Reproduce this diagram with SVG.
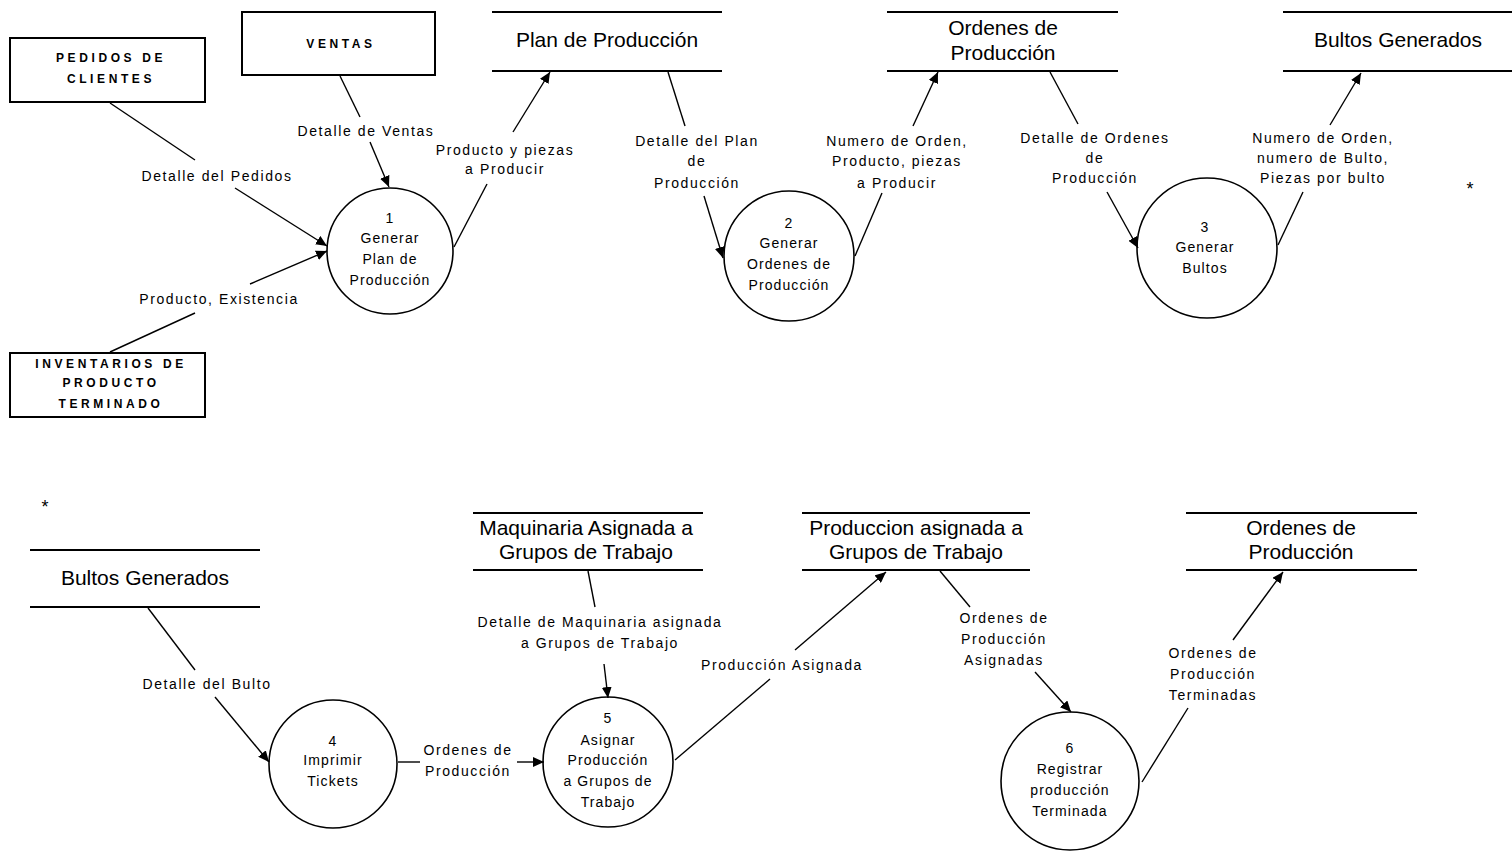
<svg xmlns="http://www.w3.org/2000/svg" width="1512" height="853" viewBox="0 0 1512 853">
<defs>
<style>
.bg{fill:#fff}
.box{fill:#fff;stroke:#000;stroke-width:2}
.store{stroke:#000;stroke-width:2}
.proc{fill:#fff;stroke:#000;stroke-width:1.6}
.flow{stroke:#000;stroke-width:1.4;fill:none}
.ent{font-family:"Liberation Sans",Arial,sans-serif;font-size:12px;font-weight:bold;letter-spacing:3.6px;text-anchor:middle;fill:#000}
.st{font-family:"Liberation Sans",Arial,sans-serif;font-size:21px;text-anchor:middle;fill:#000}
.pt{font-family:"Liberation Sans",Arial,sans-serif;font-size:14px;text-anchor:middle;fill:#000;letter-spacing:1.1px}
.lb{font-family:"Liberation Sans",Arial,sans-serif;font-size:14px;text-anchor:middle;fill:#000;letter-spacing:1.6px}
.star{font-family:"Liberation Sans",Arial,sans-serif;font-size:18px;text-anchor:middle;fill:#000}
</style>
<marker id="arr" markerUnits="userSpaceOnUse" markerWidth="12" markerHeight="10" refX="11" refY="5" orient="auto">
<path d="M0,0 L11,5 L0,10 z" fill="#000"/>
</marker>
</defs>
<rect class="bg" x="0" y="0" width="1512" height="853"/>

<!-- External entities -->
<g id="pedidos">
<rect class="box" x="10" y="38" width="195" height="64"/>
<text class="ent" x="111" y="62">PEDIDOS DE</text>
<text class="ent" x="111" y="83">CLIENTES</text>
</g>
<g id="ventas">
<rect class="box" x="242" y="12" width="193" height="63"/>
<text class="ent" x="341" y="48">VENTAS</text>
</g>
<g id="inventarios">
<rect class="box" x="10" y="353" width="195" height="64"/>
<text class="ent" x="111" y="368">INVENTARIOS DE</text>
<text class="ent" x="111" y="387">PRODUCTO</text>
<text class="ent" x="111" y="408">TERMINADO</text>
</g>

<!-- Data stores top -->
<g id="store-plan">
<line class="store" x1="492" y1="12" x2="722" y2="12"/>
<line class="store" x1="492" y1="71" x2="722" y2="71"/>
<text class="st" x="607" y="47">Plan de Producción</text>
</g>
<g id="store-ordenes1">
<line class="store" x1="887" y1="12" x2="1118" y2="12"/>
<line class="store" x1="887" y1="71" x2="1118" y2="71"/>
<text class="st" x="1003" y="35">Ordenes de</text>
<text class="st" x="1003" y="60">Producción</text>
</g>
<g id="store-bultos1">
<line class="store" x1="1283" y1="12" x2="1512" y2="12"/>
<line class="store" x1="1283" y1="71" x2="1512" y2="71"/>
<text class="st" x="1398" y="47">Bultos Generados</text>
</g>
<text class="star" x="1470" y="195">*</text>

<!-- Processes top -->
<g id="p1">
<circle class="proc" cx="390" cy="251" r="63"/>
<text class="pt" x="390" y="223">1</text>
<text class="pt" x="390" y="243">Generar</text>
<text class="pt" x="390" y="264">Plan de</text>
<text class="pt" x="390" y="285">Producción</text>
</g>
<g id="p2">
<circle class="proc" cx="789" cy="256" r="65"/>
<text class="pt" x="789" y="228">2</text>
<text class="pt" x="789" y="248">Generar</text>
<text class="pt" x="789" y="269">Ordenes de</text>
<text class="pt" x="789" y="290">Producción</text>
</g>
<g id="p3">
<circle class="proc" cx="1207" cy="248" r="70"/>
<text class="pt" x="1205" y="232">3</text>
<text class="pt" x="1205" y="252">Generar</text>
<text class="pt" x="1205" y="273">Bultos</text>
</g>

<!-- Data stores bottom -->
<text class="star" x="45" y="513">*</text>
<g id="store-bultos2">
<line class="store" x1="30" y1="550" x2="260" y2="550"/>
<line class="store" x1="30" y1="607" x2="260" y2="607"/>
<text class="st" x="145" y="585">Bultos Generados</text>
</g>
<g id="store-maquinaria">
<line class="store" x1="473" y1="513" x2="703" y2="513"/>
<line class="store" x1="473" y1="570" x2="703" y2="570"/>
<text class="st" x="586" y="535">Maquinaria Asignada a</text>
<text class="st" x="586" y="559">Grupos de Trabajo</text>
</g>
<g id="store-produccion">
<line class="store" x1="802" y1="513" x2="1030" y2="513"/>
<line class="store" x1="802" y1="570" x2="1030" y2="570"/>
<text class="st" x="916" y="535">Produccion asignada a</text>
<text class="st" x="916" y="559">Grupos de Trabajo</text>
</g>
<g id="store-ordenes2">
<line class="store" x1="1186" y1="513" x2="1417" y2="513"/>
<line class="store" x1="1186" y1="570" x2="1417" y2="570"/>
<text class="st" x="1301" y="535">Ordenes de</text>
<text class="st" x="1301" y="559">Producción</text>
</g>

<!-- Processes bottom -->
<g id="p4">
<circle class="proc" cx="333" cy="764" r="64"/>
<text class="pt" x="333" y="746">4</text>
<text class="pt" x="333" y="765">Imprimir</text>
<text class="pt" x="333" y="786">Tickets</text>
</g>
<g id="p5">
<circle class="proc" cx="608" cy="762" r="65"/>
<text class="pt" x="608" y="723">5</text>
<text class="pt" x="608" y="745">Asignar</text>
<text class="pt" x="608" y="765">Producción</text>
<text class="pt" x="608" y="786">a Grupos de</text>
<text class="pt" x="608" y="807">Trabajo</text>
</g>
<g id="p6">
<circle class="proc" cx="1070" cy="781" r="69"/>
<text class="pt" x="1070" y="753">6</text>
<text class="pt" x="1070" y="774">Registrar</text>
<text class="pt" x="1070" y="795">producción</text>
<text class="pt" x="1070" y="816">Terminada</text>
</g>

<!-- Connectors -->
<g id="connectors">
<line class="flow" x1="110" y1="103" x2="195" y2="160"/>
<line class="flow" x1="235" y1="188" x2="327" y2="246" marker-end="url(#arr)"/>
<line class="flow" x1="110" y1="352" x2="195" y2="313"/>
<line class="flow" x1="250" y1="284" x2="327" y2="251" marker-end="url(#arr)"/>
<line class="flow" x1="340" y1="76" x2="360" y2="117"/>
<line class="flow" x1="370" y1="142" x2="389" y2="187" marker-end="url(#arr)"/>
<line class="flow" x1="454" y1="247" x2="487" y2="184"/>
<line class="flow" x1="513" y1="132" x2="550" y2="72" marker-end="url(#arr)"/>
<line class="flow" x1="668" y1="72" x2="685" y2="126"/>
<line class="flow" x1="704" y1="196" x2="723" y2="258" marker-end="url(#arr)"/>
<line class="flow" x1="855" y1="256" x2="882" y2="193"/>
<line class="flow" x1="913" y1="126" x2="938" y2="72" marker-end="url(#arr)"/>
<line class="flow" x1="1050" y1="72" x2="1078" y2="124"/>
<line class="flow" x1="1107" y1="192" x2="1138" y2="248" marker-end="url(#arr)"/>
<line class="flow" x1="1278" y1="245" x2="1303" y2="192"/>
<line class="flow" x1="1330" y1="125" x2="1361" y2="73" marker-end="url(#arr)"/>

<line class="flow" x1="148" y1="608" x2="195" y2="670"/>
<line class="flow" x1="215" y1="697" x2="269" y2="762" marker-end="url(#arr)"/>
<line class="flow" x1="398" y1="762" x2="420" y2="762"/>
<line class="flow" x1="517" y1="762" x2="544" y2="762" marker-end="url(#arr)"/>
<line class="flow" x1="588" y1="571" x2="595" y2="607"/>
<line class="flow" x1="604" y1="664" x2="608" y2="698" marker-end="url(#arr)"/>
<line class="flow" x1="675" y1="760" x2="770" y2="679"/>
<line class="flow" x1="795" y1="650" x2="886" y2="572" marker-end="url(#arr)"/>
<line class="flow" x1="940" y1="571" x2="970" y2="607"/>
<line class="flow" x1="1035" y1="672" x2="1071" y2="712" marker-end="url(#arr)"/>
<line class="flow" x1="1142" y1="782" x2="1188" y2="708"/>
<line class="flow" x1="1233" y1="640" x2="1283" y2="572" marker-end="url(#arr)"/>

<text class="lb" x="217" y="181">Detalle del Pedidos</text>
<text class="lb" x="219" y="304">Producto, Existencia</text>
<text class="lb" x="366" y="136">Detalle de Ventas</text>
<text class="lb" x="505" y="155">Producto y piezas</text>
<text class="lb" x="505" y="174">a Producir</text>
<text class="lb" x="697" y="146">Detalle del Plan</text>
<text class="lb" x="697" y="166">de</text>
<text class="lb" x="697" y="188">Producción</text>
<text class="lb" x="897" y="146">Numero de Orden,</text>
<text class="lb" x="897" y="166">Producto, piezas</text>
<text class="lb" x="897" y="188">a Producir</text>
<text class="lb" x="1095" y="143">Detalle de Ordenes</text>
<text class="lb" x="1095" y="163">de</text>
<text class="lb" x="1095" y="183">Producción</text>
<text class="lb" x="1323" y="143">Numero de Orden,</text>
<text class="lb" x="1323" y="163">numero de Bulto,</text>
<text class="lb" x="1323" y="183">Piezas por bulto</text>

<text class="lb" x="207" y="689">Detalle del Bulto</text>
<text class="lb" x="468" y="755">Ordenes de</text>
<text class="lb" x="468" y="776">Producción</text>
<text class="lb" x="600" y="627">Detalle de Maquinaria asignada</text>
<text class="lb" x="600" y="648">a Grupos de Trabajo</text>
<text class="lb" x="782" y="670">Producción Asignada</text>
<text class="lb" x="1004" y="623">Ordenes de</text>
<text class="lb" x="1004" y="644">Producción</text>
<text class="lb" x="1004" y="665">Asignadas</text>
<text class="lb" x="1213" y="658">Ordenes de</text>
<text class="lb" x="1213" y="679">Producción</text>
<text class="lb" x="1213" y="700">Terminadas</text>
</g>
</svg>
